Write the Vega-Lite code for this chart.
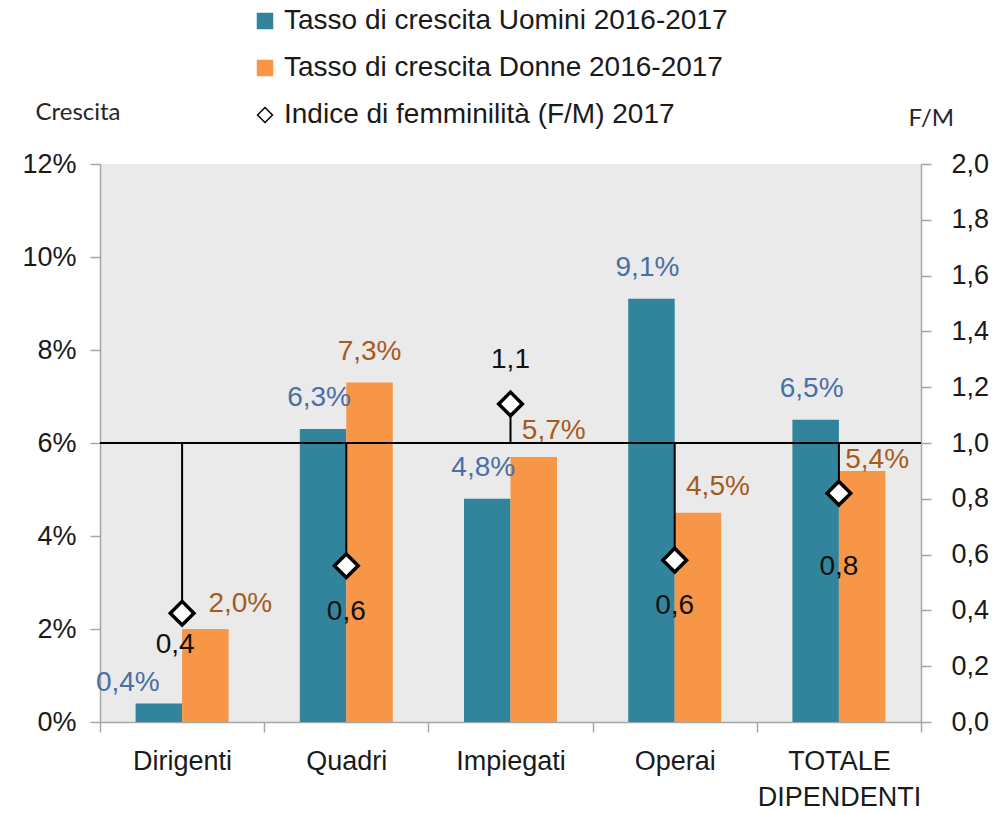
{
  "$schema": "https://vega.github.io/schema/vega-lite/v6.json",
  "width": 821,
  "height": 558,
  "autosize": {"type": "none"},
  "padding": {"left": 100, "top": 164, "right": 73, "bottom": 91},
  "config": {
    "locale": {"number": {"decimal": ",", "thousands": ".", "grouping": [3], "currency": ["€", ""]}},
    "font": "Liberation Sans",
    "view": {"fill": "#EAEAEA", "stroke": null},
    "axis": {
      "grid": false,
      "domainColor": "#A6A6A6",
      "tickColor": "#A6A6A6",
      "domainWidth": 1.5,
      "tickWidth": 1.5,
      "tickSize": 10,
      "labelFont": "Liberation Sans",
      "labelFontSize": 27,
      "labelColor": "#1a1a1a",
      "titleFont": "Lato",
      "titleFontSize": 24,
      "titleFontWeight": "normal",
      "titleColor": "#262626"
    },
    "legend": {
      "orient": "none",
      "legendX": 151,
      "legendY": -157,
      "labelFont": "Liberation Sans",
      "labelFontSize": 28,
      "labelColor": "#1a1a1a",
      "labelLimit": 700,
      "labelOffset": 5,
      "symbolSize": 225,
      "symbolStrokeWidth": 1.5,
      "rowPadding": 19,
      "padding": 0
    }
  },
  "datasets": {
    "bars": [
      {"cat": "Dirigenti", "serie": "Tasso di crescita Uomini 2016-2017", "val": 0.004},
      {"cat": "Dirigenti", "serie": "Tasso di crescita Donne 2016-2017", "val": 0.020},
      {"cat": "Quadri", "serie": "Tasso di crescita Uomini 2016-2017", "val": 0.063},
      {"cat": "Quadri", "serie": "Tasso di crescita Donne 2016-2017", "val": 0.073},
      {"cat": "Impiegati", "serie": "Tasso di crescita Uomini 2016-2017", "val": 0.048},
      {"cat": "Impiegati", "serie": "Tasso di crescita Donne 2016-2017", "val": 0.057},
      {"cat": "Operai", "serie": "Tasso di crescita Uomini 2016-2017", "val": 0.091},
      {"cat": "Operai", "serie": "Tasso di crescita Donne 2016-2017", "val": 0.045},
      {"cat": "TOTALE DIPENDENTI", "serie": "Tasso di crescita Uomini 2016-2017", "val": 0.065},
      {"cat": "TOTALE DIPENDENTI", "serie": "Tasso di crescita Donne 2016-2017", "val": 0.054}
    ],
    "fm": [
      {"cat": "Dirigenti", "serie": "Indice di femminilità (F/M) 2017", "fm": 0.39},
      {"cat": "Quadri", "serie": "Indice di femminilità (F/M) 2017", "fm": 0.56},
      {"cat": "Impiegati", "serie": "Indice di femminilità (F/M) 2017", "fm": 1.14},
      {"cat": "Operai", "serie": "Indice di femminilità (F/M) 2017", "fm": 0.58},
      {"cat": "TOTALE DIPENDENTI", "serie": "Indice di femminilità (F/M) 2017", "fm": 0.82}
    ]
  },
  "encoding": {
    "x": {
      "field": "cat",
      "type": "nominal",
      "sort": ["Dirigenti", "Quadri", "Impiegati", "Operai", "TOTALE DIPENDENTI"],
      "scale": {"paddingInner": 0, "paddingOuter": 0},
      "axis": {
        "title": null,
        "labelAngle": 0,
        "tickBand": "extent",
        "labelPadding": 16,
        "labelLineHeight": 36,
        "labelBaseline": "top",
        "labelExpr": "datum.value == 'TOTALE DIPENDENTI' ? ['TOTALE', 'DIPENDENTI'] : datum.value"
      }
    }
  },
  "layer": [
    {
      "data": {"name": "bars"},
      "encoding": {
        "xOffset": {
          "field": "serie",
          "type": "nominal",
          "sort": ["Tasso di crescita Uomini 2016-2017", "Tasso di crescita Donne 2016-2017"],
          "scale": {"paddingInner": 0, "paddingOuter": 0.766}
        }
      },
      "layer": [
        {
          "mark": {"type": "bar"},
          "encoding": {
            "y": {
              "field": "val",
              "type": "quantitative",
              "scale": {"domain": [0, 0.12], "nice": false},
              "axis": {
                "orient": "left",
                "values": [0, 0.02, 0.04, 0.06, 0.08, 0.1, 0.12],
                "format": ".0%",
                "labelPadding": 14,
                "title": "Crescita",
                "titleAngle": 0,
                "titleAlign": "left",
                "titleBaseline": "middle",
                "titleX": -65,
                "titleY": -52
              }
            },
            "color": {
              "field": "serie",
              "type": "nominal",
              "scale": {
                "domain": ["Tasso di crescita Uomini 2016-2017", "Tasso di crescita Donne 2016-2017", "Indice di femminilità (F/M) 2017"],
                "range": ["#31849B", "#F79646", "#FFFFFF"]
              },
              "legend": {"title": null}
            }
          }
        },
        {
          "transform": [{"filter": "datum.serie == 'Tasso di crescita Uomini 2016-2017' && datum.cat != 'Dirigenti'"}],
          "mark": {"type": "text", "fontSize": 28, "color": "#4A6FA5", "baseline": "middle", "dy": -31, "dx": -4},
          "encoding": {
            "y": {"field": "val", "type": "quantitative"},
            "text": {"field": "val", "type": "quantitative", "format": ".1%"}
          }
        },
        {
          "transform": [{"filter": "datum.serie == 'Tasso di crescita Uomini 2016-2017' && datum.cat == 'Dirigenti'"}],
          "mark": {"type": "text", "fontSize": 28, "color": "#4A6FA5", "baseline": "middle", "dy": -20, "dx": -31},
          "encoding": {
            "y": {"field": "val", "type": "quantitative"},
            "text": {"field": "val", "type": "quantitative", "format": ".1%"}
          }
        },
        {
          "transform": [{"filter": "datum.serie == 'Tasso di crescita Donne 2016-2017' && (datum.cat == 'Impiegati' || datum.cat == 'Operai')"}],
          "mark": {"type": "text", "fontSize": 28, "color": "#A65A1E", "baseline": "middle", "dy": -26, "dx": 20},
          "encoding": {
            "y": {"field": "val", "type": "quantitative"},
            "text": {"field": "val", "type": "quantitative", "format": ".1%"}
          }
        },
        {
          "transform": [{"filter": "datum.serie == 'Tasso di crescita Donne 2016-2017' && datum.cat == 'Quadri'"}],
          "mark": {"type": "text", "fontSize": 28, "color": "#A65A1E", "baseline": "middle", "dy": -31, "dx": 0},
          "encoding": {
            "y": {"field": "val", "type": "quantitative"},
            "text": {"field": "val", "type": "quantitative", "format": ".1%"}
          }
        },
        {
          "transform": [{"filter": "datum.serie == 'Tasso di crescita Donne 2016-2017' && datum.cat == 'Dirigenti'"}],
          "mark": {"type": "text", "fontSize": 28, "color": "#A65A1E", "baseline": "middle", "dy": -25, "dx": 35},
          "encoding": {
            "y": {"field": "val", "type": "quantitative"},
            "text": {"field": "val", "type": "quantitative", "format": ".1%"}
          }
        },
        {
          "transform": [{"filter": "datum.serie == 'Tasso di crescita Donne 2016-2017' && datum.cat == 'TOTALE DIPENDENTI'"}],
          "mark": {"type": "text", "fontSize": 28, "color": "#A65A1E", "baseline": "middle", "dy": -11, "dx": 15},
          "encoding": {
            "y": {"field": "val", "type": "quantitative"},
            "text": {"field": "val", "type": "quantitative", "format": ".1%"}
          }
        },
        {
          "mark": {"type": "rule", "color": "#000000", "strokeWidth": 1.5},
          "encoding": {"y": {"datum": 0.06, "type": "quantitative"}, "xOffset": null, "x": {"value": 0}, "x2": {"value": 821}}
        }
      ]
    },
    {
      "data": {"name": "fm"},
      "layer": [
        {
          "mark": {"type": "rule", "color": "#000000", "strokeWidth": 2},
          "encoding": {
            "y": {
              "field": "fm",
              "type": "quantitative",
              "scale": {"domain": [0, 2], "nice": false},
              "axis": {
                "orient": "right",
                "values": [0, 0.2, 0.4, 0.6, 0.8, 1, 1.2, 1.4, 1.6, 1.8, 2],
                "format": ".1f",
                "labelPadding": 20,
                "title": "F/M",
                "titleAngle": 0,
                "titleAlign": "left",
                "titleBaseline": "middle",
                "titleX": -13,
                "titleY": -46
              }
            },
            "y2": {"datum": 1}
          }
        },
        {
          "mark": {"type": "point", "filled": true, "size": 560, "strokeWidth": 3.5, "opacity": 1},
          "encoding": {
            "y": {"field": "fm", "type": "quantitative"},
            "color": {"field": "serie", "type": "nominal", "legend": {"title": null}},
            "shape": {
              "field": "serie",
              "type": "nominal",
              "scale": {
                "domain": ["Tasso di crescita Uomini 2016-2017", "Tasso di crescita Donne 2016-2017", "Indice di femminilità (F/M) 2017"],
                "range": ["square", "square", "diamond"]
              },
              "legend": {"title": null}
            },
            "stroke": {
              "field": "serie",
              "type": "nominal",
              "scale": {
                "domain": ["Tasso di crescita Uomini 2016-2017", "Tasso di crescita Donne 2016-2017", "Indice di femminilità (F/M) 2017"],
                "range": ["#31849B", "#F79646", "#000000"]
              },
              "legend": {"title": null}
            }
          }
        },
        {
          "transform": [{"filter": "datum.fm < 1 && datum.cat != 'Dirigenti' && datum.cat != 'TOTALE DIPENDENTI'"}],
          "mark": {"type": "text", "fontSize": 28, "color": "#111111", "baseline": "middle", "dy": 46},
          "encoding": {
            "y": {"field": "fm", "type": "quantitative"},
            "text": {"field": "fm", "type": "quantitative", "format": ".1f"}
          }
        },
        {
          "transform": [{"filter": "datum.cat == 'Dirigenti'"}],
          "mark": {"type": "text", "fontSize": 28, "color": "#111111", "baseline": "middle", "dy": 32, "dx": -7},
          "encoding": {
            "y": {"field": "fm", "type": "quantitative"},
            "text": {"field": "fm", "type": "quantitative", "format": ".1f"}
          }
        },
        {
          "transform": [{"filter": "datum.cat == 'TOTALE DIPENDENTI'"}],
          "mark": {"type": "text", "fontSize": 28, "color": "#111111", "baseline": "middle", "dy": 74},
          "encoding": {
            "y": {"field": "fm", "type": "quantitative"},
            "text": {"field": "fm", "type": "quantitative", "format": ".1f"}
          }
        },
        {
          "transform": [{"filter": "datum.fm >= 1"}],
          "mark": {"type": "text", "fontSize": 28, "color": "#111111", "baseline": "middle", "dy": -44},
          "encoding": {
            "y": {"field": "fm", "type": "quantitative"},
            "text": {"field": "fm", "type": "quantitative", "format": ".1f"}
          }
        }
      ]
    }
  ],
  "resolve": {"scale": {"y": "independent"}}
}
